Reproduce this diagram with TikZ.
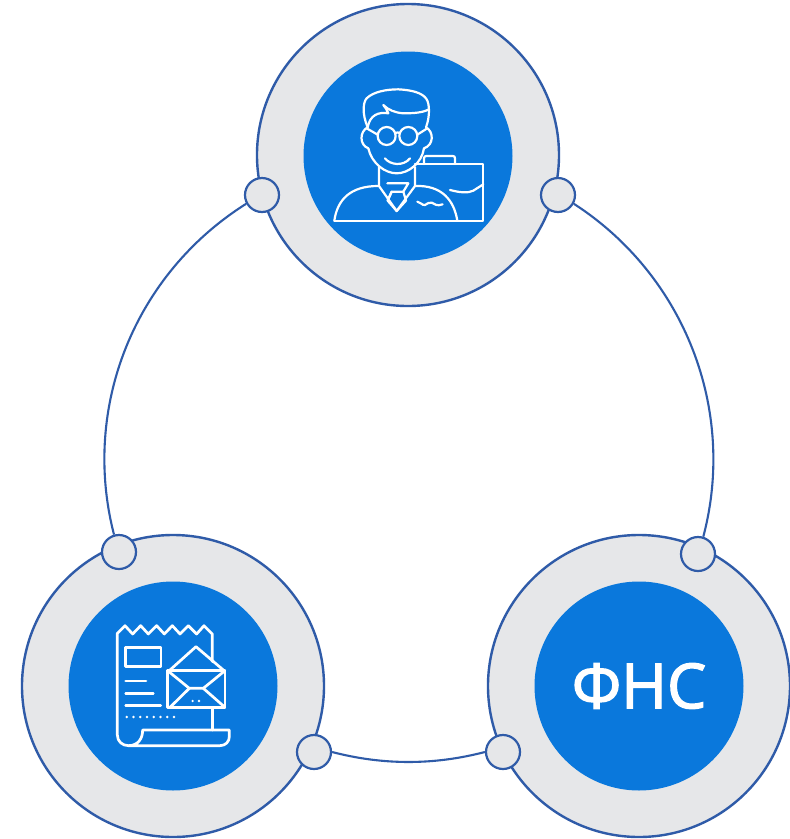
\documentclass[tikz,border=0pt]{standalone}
\usepackage{fontspec}
\newfontfamily\fnsfont[FakeBold=2.2]{Open Sans}
\definecolor{ringline}{HTML}{2F5BA8}
\definecolor{ringfill}{HTML}{E6E7E9}
\definecolor{discblue}{HTML}{0A78DC}
\tikzset{
  ring/.style={circle,draw=ringline,fill=ringfill,line width=2.4pt,minimum size=302pt,inner sep=0pt},
  disc/.style={circle,fill=discblue,minimum size=209pt,inner sep=0pt,text=white},
  port/.style={circle,draw=ringline,fill=ringfill,line width=2.2pt,minimum size=34pt,inner sep=0pt},
  link/.style={draw=ringline,line width=2.1pt},
  iconline/.style={draw=white,line width=2.2pt,line join=round,line cap=round},
  iconlinew/.style={draw=white,line width=2.7pt,line join=round,line cap=round},
}
\begin{document}
\begin{tikzpicture}[x=1pt,y=-1pt]
\useasboundingbox (0,0) rectangle (790,839);
\fill[white] (0,0) rectangle (790,839);
\node[ring] (ringtop) at (408,155) {};
\node[ring] (ringleft) at (173,686) {};
\node[ring] (ringright) at (639,686) {};
\node[disc] (disctop) at (408,156) {};
\node[disc] (discleft) at (173,686) {};
\node[disc,font=\fnsfont\fontsize{62}{62}\selectfont] (discright) at (639,686) {ФНС};
\node[port] (ptl) at (262,195) {};
\node[port] (ptr) at (558,195) {};
\node[port] (pll) at (119,552) {};
\node[port] (prr) at (698,554) {};
\node[port] (plb) at (314,752) {};
\node[port] (prb) at (503,752) {};
\draw[link] (ptl.209.5) .. controls +(-111.6,70.3) and +(-33,-127.7) .. (pll.106.4);
\draw[link] (ptr.-29.5) .. controls +(110.5,71.4) and +(33.7,-127.2) .. (prr.73.6);
\draw[link] (plb.east) .. controls +(51,13.3) and +(-51,13.3) .. (prb.west);
% person icon
\begin{scope}[shift={(300,50)},x=0.3333pt,y=-0.3333pt,iconline]
\draw (103,512) .. controls (112,450) and (150,408) .. (235,408);
\draw (345,408) .. controls (425,405) and (462,450) .. (472,512);
\draw (103,512) -- (472,512);
\draw (237,352) -- (237,408) -- (290,483) -- (345,408) -- (345,352);
\draw (262,400) -- (325,400) -- (310,425) -- (275,425) -- (263,452);
\draw (275,425) -- (263,452) -- (290,483) -- (318,452) -- (310,425);
\draw (345,342) -- (550,342) -- (550,512) -- (472,512);
\draw (450,420) .. controls (480,428) and (505,430) .. (520,422) -- (550,403);
\draw (372,342) -- (372,325) .. controls (372,320) and (375,318) .. (380,318) -- (458,318) .. controls (463,318) and (465,320) .. (465,325) -- (465,342);
\draw (352,455) .. controls (362,455) and (365,467) .. (375,465) .. controls (385,462) and (385,455) .. (395,458) .. controls (405,462) and (410,470) .. (428,463);
% head
\draw (203,232) .. controls (178,245) and (178,285) .. (205,295);
\draw (205,295) .. controls (215,340) and (255,370) .. (290,370) .. controls (325,370) and (365,340) .. (372,295);
\draw (378,232) .. controls (402,245) and (402,285) .. (372,295);
\draw (203,232) .. controls (185,190) and (190,155) .. (200,145) .. controls (220,125) and (260,118) .. (295,118) .. controls (335,120) and (365,128) .. (378,145) .. controls (390,160) and (390,200) .. (378,232);
\draw (203,232) .. controls (210,195) and (235,185) .. (265,190) .. controls (262,180) and (255,172) .. (250,165) .. controls (265,180) and (285,188) .. (310,190) .. controls (340,190) and (370,188) .. (386,178);
\draw (260,258) circle[radius=27];
\draw (325,258) circle[radius=27];
\draw (286,250) .. controls (292,246) and (294,246) .. (299,250);
\draw (233,254) -- (200,235);
\draw (352,254) -- (382,235);
\draw (255,325) .. controls (270,345) and (310,350) .. (330,325);
\end{scope}
% receipt icon
\begin{scope}[shift={(60,580)},x=0.3333pt,y=-0.3333pt,iconlinew]
\draw (457,245) -- (457,162) -- (432,137) -- (410,162) -- (385,137) -- (360,162) -- (337,137) -- (313,162) -- (290,137) -- (265,162) -- (242,137) -- (218,162) -- (195,137) -- (172,160) -- (172,465) .. controls (172,485) and (188,497) .. (205,497) -- (480,497) .. controls (497,497) and (508,485) .. (508,470) -- (508,450) -- (248,450) .. controls (248,475) and (235,497) .. (205,497);
\draw (457,385) -- (457,450);
\draw (197,202) rectangle (303,260);
\draw (197,303) -- (258,303);
\draw (197,340) -- (280,340);
\draw (197,377) -- (302,377);
\draw[dash pattern=on 0pt off 6.77pt,line width=2.8pt] (200,411) -- (345,411);
\draw (323,272) rectangle (495,382);
\draw (330,270) -- (408,200) -- (490,270);
\draw (323,272) -- (388,325) -- (430,325) -- (495,272);
\draw (330,382) -- (388,325);
\draw (430,325) -- (495,382);
\draw[dash pattern=on 0pt off 6.3pt,line width=2.6pt] (398,363) -- (420,363);
\end{scope}
\end{tikzpicture}
\end{document}
